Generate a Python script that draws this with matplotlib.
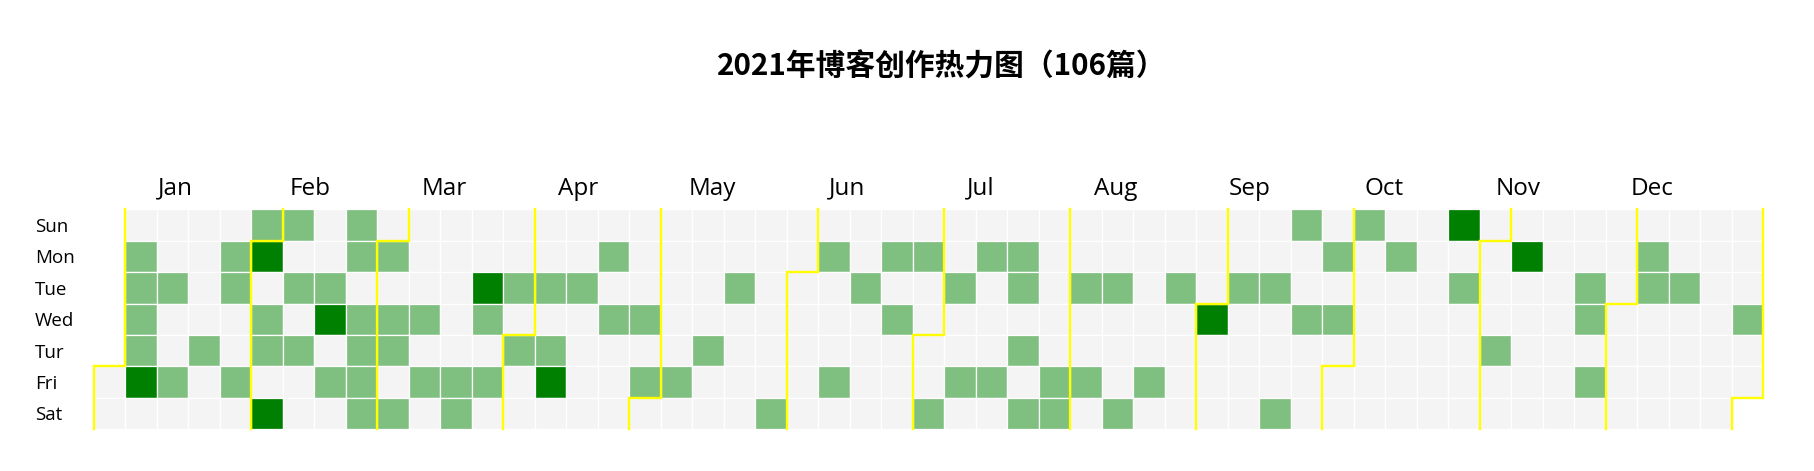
import datetime as dt
import matplotlib
matplotlib.use('Agg')
import matplotlib.pyplot as plt
from matplotlib.patches import Rectangle

# ---- data ----
YEAR = 2021
TITLE = '2021年博客创作热力图（106篇）'
MONTHS = ['Jan', 'Feb', 'Mar', 'Apr', 'May', 'Jun',
          'Jul', 'Aug', 'Sep', 'Oct', 'Nov', 'Dec']
WEEKDAYS = ['Sun', 'Mon', 'Tue', 'Wed', 'Tur', 'Fri', 'Sat']

# days with one post
one_post_days = [
    '01-04', '01-05', '01-06', '01-07', '01-12', '01-15', '01-21', '01-25', '01-26', '01-29', '01-31',
    '02-03', '02-04', '02-07', '02-09', '02-11', '02-16', '02-19', '02-21', '02-22', '02-24', '02-25',
    '02-26', '02-27',
    '03-01', '03-03', '03-04', '03-06', '03-10', '03-12', '03-19', '03-20', '03-24', '03-26', '03-30',
    '04-01', '04-06', '04-08', '04-13', '04-19', '04-21', '04-28', '04-30',
    '05-07', '05-13', '05-18', '05-29',
    '06-07', '06-11', '06-15', '06-21', '06-23', '06-28',
    '07-03', '07-06', '07-09', '07-12', '07-16', '07-19', '07-20', '07-22', '07-24', '07-30', '07-31',
    '08-03', '08-06', '08-10', '08-14', '08-20', '08-24',
    '09-07', '09-14', '09-18', '09-19', '09-22', '09-27', '09-29',
    '10-03', '10-11', '10-26',
    '11-04', '11-23', '11-24', '11-26',
    '12-06', '12-07', '12-14', '12-29',
]
# days with two posts
two_post_days = ['01-08', '02-01', '02-06', '02-17', '03-23', '04-09', '09-01', '10-24', '11-08']

# ---- style / layout ----
W, H = 1815, 471
COLORS = {0: '#f4f4f4', 1: '#7fbf7f', 2: '#008000'}
SPLIT_COLOR = '#ffff00'
GRID_LEFT, GRID_RIGHT, GRID_TOP, GRID_BOTTOM = 94, 1763.5, 209.3, 429.1
MONTH_LABEL_START, MONTH_LABEL_STEP = 2.59, 4.262   # in week columns
LABEL_FONT = ['Open Sans', 'DejaVu Sans']

counts = {}
for d in one_post_days:
    counts[d] = 1
for d in two_post_days:
    counts[d] = 2

start = dt.date(YEAR, 1, 1)
end = dt.date(YEAR, 12, 31)
offset = (start.weekday() + 1) % 7   # Sunday first


def cell(day):
    i = (day - start).days + offset
    return i // 7, i % 7


n_weeks = cell(end)[0] + 1

fig = plt.figure(figsize=(W / 100, H / 100), dpi=100)
ax = fig.add_axes([GRID_LEFT / W, 1 - GRID_BOTTOM / H,
                   (GRID_RIGHT - GRID_LEFT) / W, (GRID_BOTTOM - GRID_TOP) / H])
ax.set_xlim(0, n_weeks)
ax.set_ylim(7, 0)
ax.axis('off')

# day cells
day = start
while day <= end:
    c, r = cell(day)
    v = counts.get(day.strftime('%m-%d'), 0)
    ax.add_patch(Rectangle((c, r), 1, 1, facecolor=COLORS[v],
                           edgecolor='white', linewidth=0.9))
    day += dt.timedelta(days=1)

# month split lines (also the one after the last day)
firsts = [dt.date(YEAR, m, 1) for m in range(1, 13)] + [dt.date(YEAR + 1, 1, 1)]
for f in firsts:
    c, r = cell(f)
    if r == 0:
        xs, ys = [c, c], [0, 7]
    else:
        xs, ys = [c + 1, c + 1, c, c], [0, r, r, 7]
    ax.plot(xs, ys, color=SPLIT_COLOR, linewidth=1.7, clip_on=False,
            solid_joinstyle='miter', zorder=5)

# month labels
for k, name in enumerate(MONTHS):
    ax.text(MONTH_LABEL_START + MONTH_LABEL_STEP * k, -0.47, name,
            ha='center', va='baseline', fontsize=17.5, family=LABEL_FONT,
            color='#000000', clip_on=False)

# weekday labels
for r, name in enumerate(WEEKDAYS):
    ax.text((35 - GRID_LEFT) / 31.5, r + 0.72, name, ha='left', va='baseline',
            fontsize=13.5, family=LABEL_FONT, color='#000000', clip_on=False)

fig.text(942 / W, 1 - 76 / H, TITLE, ha='center', va='baseline',
         fontsize=21.4, fontweight='bold',
         family=['Noto Sans CJK SC', 'DejaVu Sans'], color='#000000')

fig.savefig('out.png', dpi=100, facecolor='white')
